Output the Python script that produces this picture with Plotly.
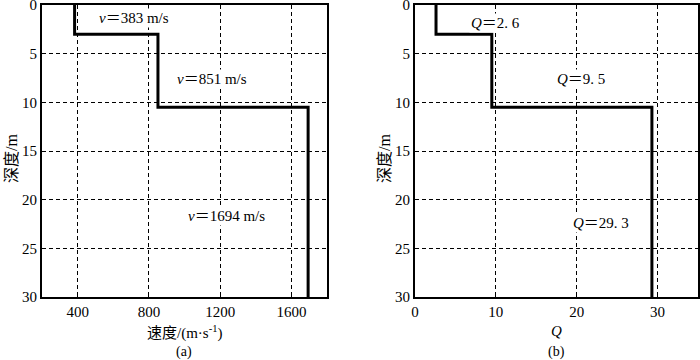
import plotly.graph_objects as go

layer_top = [0, 3, 10.5]
layer_bottom = [3, 10.5, 30]
velocity = [383, 851, 1694]
q_values = [2.6, 9.5, 29.3]
v_labels = ["<i>v</i>＝383 m/s", "<i>v</i>＝851 m/s", "<i>v</i>＝1694 m/s"]
q_labels = ["<i>Q</i>＝2. 6", "<i>Q</i>＝9. 5", "<i>Q</i>＝29. 3"]
v_label_pos = [(718, 1.3), (1157, 7.6), (1236, 21.7)]
q_label_pos = [(9.9, 1.9), (20.5, 7.6), (23.0, 22.4)]
depth_ticks = [0, 5, 10, 15, 20, 25, 30]
v_ticks = [400, 800, 1200, 1600]
q_ticks = [0, 10, 20, 30]

def step(vals):
    xs, ys = [], []
    for t, b, v in zip(layer_top, layer_bottom, vals):
        xs += [v, v]
        ys += [t, b]
    return xs, ys

FONT = "Liberation Serif, Noto Sans CJK SC, serif"
fig = go.Figure()
vx, vy = step(velocity)
qx, qy = step(q_values)
fig.add_trace(go.Scatter(x=vx, y=vy, mode="lines", line=dict(color="black", width=3),
                         xaxis="x", yaxis="y", showlegend=False))
fig.add_trace(go.Scatter(x=qx, y=qy, mode="lines", line=dict(color="black", width=3),
                         xaxis="x2", yaxis="y2", showlegend=False))

axcommon = dict(showline=True, linecolor="black", linewidth=2, mirror=True,
                showgrid=True, gridcolor="black", griddash="4px,3px", gridwidth=1,
                zeroline=False, ticks="inside", ticklen=3, tickcolor="black",
                automargin=False, ticklabeloverflow="allow",
                tickfont=dict(family=FONT, size=15, color="black"))

fig.update_layout(
    width=700, height=360, margin=dict(l=0, r=0, t=0, b=0, autoexpand=False),
    paper_bgcolor="white", plot_bgcolor="white",
    font=dict(family=FONT, color="black"),
    xaxis=dict(domain=[42/700, 327/700], range=[200, 1800], tickvals=v_ticks,
               anchor="y", **axcommon),
    yaxis=dict(domain=[1-297/360, 1-5/360], range=[30, 0], tickvals=depth_ticks,
               anchor="x", **axcommon),
    xaxis2=dict(domain=[415/700, 698/700], range=[0, 35], tickvals=q_ticks,
                anchor="y2", **axcommon),
    yaxis2=dict(domain=[1-297/360, 1-5/360], range=[30, 0], tickvals=depth_ticks,
                anchor="x2", **axcommon),
)

ann = []
for (x, y), t in zip(v_label_pos, v_labels):
    ann.append(dict(x=x, y=y, xref="x", yref="y", text=t, showarrow=False,
                    xanchor="center", yanchor="middle",
                    bgcolor="white", font=dict(family=FONT, size=15, color="black")))
for (x, y), t in zip(q_label_pos, q_labels):
    ann.append(dict(x=x, y=y, xref="x2", yref="y2", text=t, showarrow=False,
                    xanchor="center", yanchor="middle",
                    bgcolor="white", font=dict(family=FONT, size=15, color="black")))

def paper_text(px, py, text, size, angle=0):
    return dict(x=px/700, y=1-py/360, xref="paper", yref="paper", text=text,
                textangle=angle, showarrow=False, xanchor="center", yanchor="middle",
                font=dict(family=FONT, size=size, color="black"))

ann.append(paper_text(11, 159, "深度/m", 16, -90))
ann.append(paper_text(384, 159, "深度/m", 16, -90))
ann.append(paper_text(184, 332, "速度/(m·s<sup>-1</sup>)", 15))
ann.append(paper_text(556, 331, "<i>Q</i>", 15))
ann.append(paper_text(184, 352, "(a)", 14))
ann.append(paper_text(556, 352, "(b)", 14))
fig.update_layout(annotations=ann)

fig.write_html("out.html", config={"displayModeBar": False},
               post_script="document.body.style.margin='0';document.body.style.overflow='hidden';")
